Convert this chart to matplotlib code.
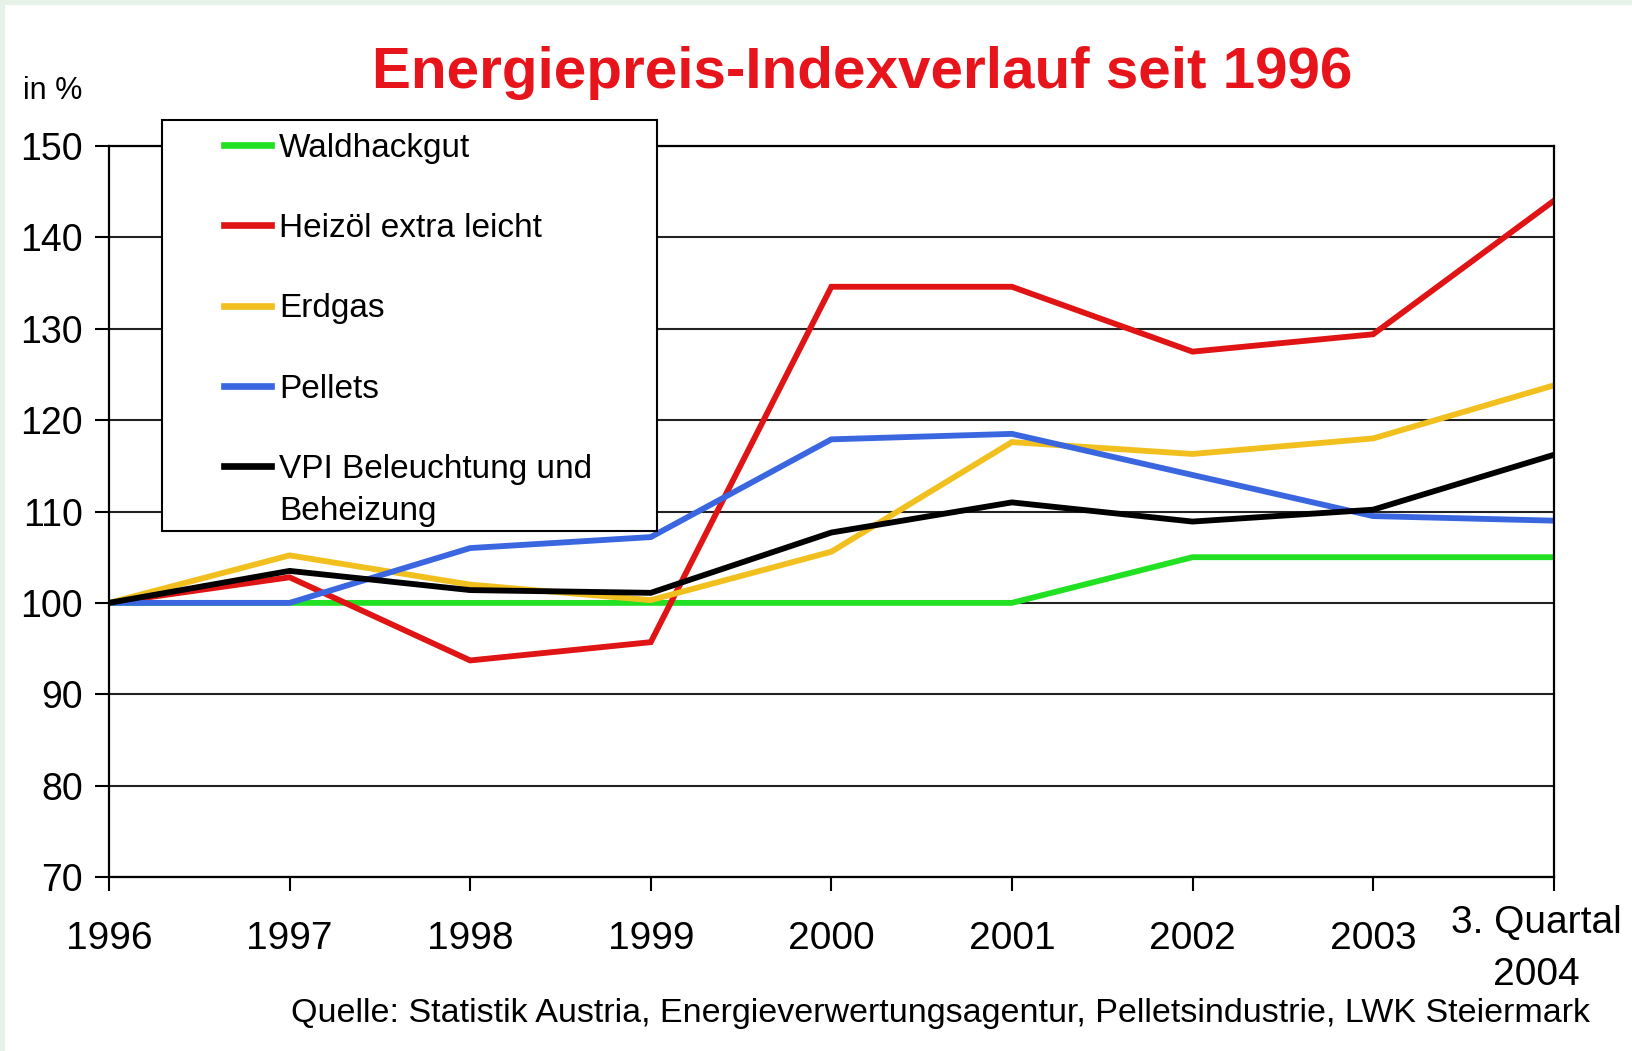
import matplotlib.pyplot as plt
import matplotlib.transforms as mtransforms
from matplotlib.patches import Rectangle

plt.rcParams['font.family'] = ['Liberation Sans', 'DejaVu Sans']

years = ['1996', '1997', '1998', '1999', '2000', '2001', '2002', '2003', '3. Quartal\n2004']

waldhackgut = [100, 100, 100, 100, 100, 100, 105, 105, 105]
heizoel = [100, 102.8, 93.7, 95.7, 134.6, 134.6, 127.5, 129.4, 144.0]
erdgas = [100, 105.2, 102.0, 100.3, 105.6, 117.6, 116.3, 118.0, 123.8]
pellets = [100, 100, 106.0, 107.2, 117.9, 118.5, 114.0, 109.5, 109.0]
vpi = [100, 103.5, 101.4, 101.1, 107.7, 111.0, 108.9, 110.2, 116.2]

series = [
    ('Waldhackgut', waldhackgut, '#22e022'),
    ('Heizöl extra leicht', heizoel, '#e01414'),
    ('Erdgas', erdgas, '#f2c01e'),
    ('Pellets', pellets, '#3a66e0'),
    ('VPI Beleuchtung und', vpi, '#000000'),
]

fig = plt.figure(figsize=(16.32, 10.51), dpi=100, facecolor='#e6f2e8')
fig.patches.append(Rectangle((5 / 1632, 0), 1, 1 - 5 / 1051, transform=fig.transFigure,
                             facecolor='white', edgecolor='none', zorder=-1))

ax = fig.add_axes([0.0668, 0.1656, 0.952 - 0.0668, 0.861 - 0.1656])
x = range(len(years))
for name, vals, col in series:
    ax.plot(x, vals, color=col, lw=4.2, label=name, solid_joinstyle='miter')

ax.set_xlim(0, len(years) - 1)
ax.set_ylim(70, 150)
ax.set_yticks(range(70, 151, 10))
ax.yaxis.grid(True, color='#222222', lw=1.5)
ax.set_axisbelow(True)
for s in ax.spines.values():
    s.set_linewidth(1.6)
    s.set_color('black')

ax.set_xticks(list(x))
ax.set_xticklabels(years, fontsize=28)
ax.tick_params(axis='x', length=10, width=1.5, pad=22)
ax.tick_params(axis='y', length=10, width=1.5, pad=9, labelsize=27)
last = ax.get_xticklabels()[-1]
last.set_ha('center')
last.set_va('top')
last.set_linespacing(1.55)
last.set_transform(last.get_transform() + mtransforms.ScaledTranslation(-0.17, 0.16, fig.dpi_scale_trans))

fig.text(0.528, 0.931, 'Energiepreis-Indexverlauf seit 1996', color='#e8141c', fontsize=42,
         fontweight='bold', ha='center', va='center')
fig.text(0.014, 0.913, 'in %', fontsize=22, ha='left', va='center')
fig.text(0.974, 0.036, 'Quelle: Statistik Austria, Energieverwertungsagentur, Pelletsindustrie, LWK Steiermark',
         fontsize=24.5, ha='right', va='center')

# legend box drawn separately so the padding can match
ax.add_patch(Rectangle((0.0367, 0.4733), 0.379 - 0.0367, 1.0356 - 0.4733, transform=ax.transAxes,
                       facecolor='white', edgecolor='black', lw=1.5, clip_on=False, zorder=4))
leg = ax.legend(loc='upper left', bbox_to_anchor=(0.0796, 1.0185), fontsize=24, frameon=False,
                handlelength=1.4, handletextpad=0.25, labelspacing=1.48, borderpad=0,
                borderaxespad=0)
leg.set_zorder(5)
for line in leg.get_lines():
    line.set_linewidth(4.8)

fig.canvas.draw()
bb = leg.get_texts()[-1].get_window_extent()
fig.text(bb.x0, (bb.y0 + bb.y1) / 2 - 41.6, 'Beheizung', fontsize=24, ha='left', va='center',
         transform=None, zorder=6)

fig.savefig('out.png', dpi=100, facecolor=fig.get_facecolor())
